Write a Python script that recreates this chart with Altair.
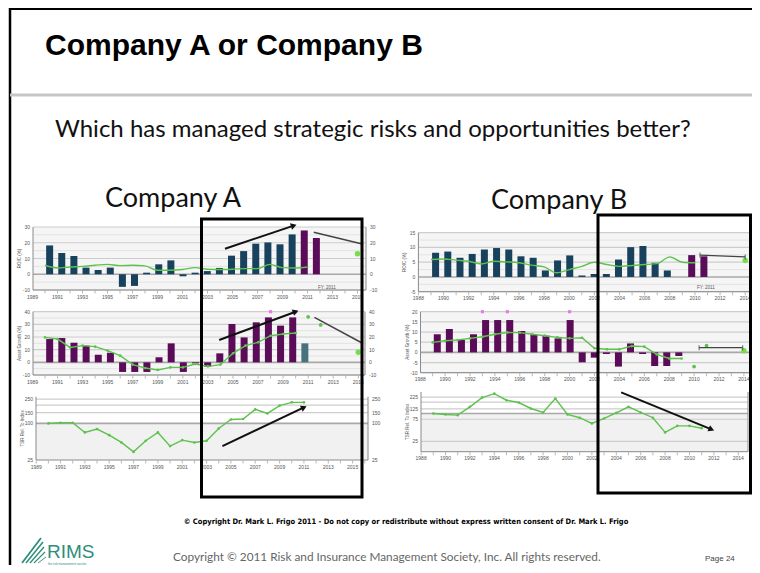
import math
import altair as alt
import pandas as pd

# ====================== DATA ======================
# ---- Company A : ROIC (%) ----
a_roic_years = [1990, 1991, 1992, 1993, 1994, 1995, 1996, 1997, 1998, 1999, 2000,
                2001, 2002, 2003, 2004, 2005, 2006, 2007, 2008, 2009, 2010]
a_roic = [18.3, 13.5, 11.6, 4.2, 2.7, 4.2, -8.0, -7.4, 1.0, 6.3, 8.8,
          -1.3, 1.0, 2.0, 4.0, 11.8, 14.7, 19.4, 20.2, 19.0, 25.3]
a_roic_fc_years = [2011, 2012]
a_roic_fc = [27.8, 23.0]
a_roic_peer_years = [1990, 1991, 1992, 1993, 1994, 1995, 1996, 1997, 1998, 1999, 2000,
                     2001, 2002, 2003, 2004, 2005, 2006, 2007, 2008, 2009, 2010, 2011]
a_roic_peer = [5.7, 4.0, 4.6, 5.0, 5.7, 6.3, 5.5, 5.7, 5.3, 2.5, 2.5,
               3.0, 4.2, 3.2, 3.0, 3.2, 3.6, 3.6, 6.3, 4.2, 4.0, 4.6]
a_roic_target_years = [2015]
a_roic_target = [13.0]

# ---- Company A : Asset growth (%) ----
a_ag_years = [1990, 1991, 1992, 1993, 1994, 1995, 1996, 1997, 1998, 1999, 2000,
              2001, 2002, 2003, 2004, 2005, 2006, 2007, 2008, 2009, 2010]
a_ag = [18.4, 19.2, 15.5, 13.2, 6.0, 7.6, -7.6, -7.6, -7.6, 4.0, 15.0,
        -7.6, -0.8, -3.4, 7.1, 30.3, 19.7, 31.6, 35.5, 29.0, 35.5]
a_ag_fc_years = [2011]
a_ag_fc = [15.0]
a_ag_peer_years = [1990, 1991, 1992, 1993, 1994, 1995, 1996, 1997, 1998, 1999, 2000,
                   2001, 2002, 2003, 2004, 2005, 2006, 2007, 2008, 2009, 2010]
a_ag_peer = [19.7, 18.4, 11.8, 13.2, 12.4, 9.2, 5.3, -1.8, -4.5, -6.0, -4.0,
             -4.0, -1.3, -3.2, -1.8, 7.1, 13.2, 15.8, 21.0, 22.4, 23.2]
a_ag_est_years = [2011, 2012]
a_ag_est = [36.0, 29.5]
a_ag_off_years = [2008, 2010]
a_ag_off = [40.0, 40.0]
a_ag_target_years = [2015]
a_ag_target = [7.9]

# ---- Company A : TSR relative to index ----
a_tsr_years = [1990, 1991, 1992, 1993, 1994, 1995, 1996, 1997, 1998, 1999, 2000,
               2001, 2002, 2003, 2004, 2005, 2006, 2007, 2008, 2009, 2010, 2011]
a_tsr = [100, 102.5, 102.5, 71, 80.6, 64, 48.6, 34, 51.8, 71, 42.3,
         53, 48.6, 51.8, 82.7, 116, 118, 170, 146, 196, 222, 222]

# ---- Company B : ROIC (%) ----
b_roic_years = [1989, 1990, 1991, 1992, 1993, 1994, 1995, 1996, 1997, 1998,
                1999, 2000, 2001, 2002, 2003, 2004, 2005, 2006, 2007, 2008]
b_roic = [8.2, 8.6, 6.5, 7.8, 9.3, 9.8, 9.3, 7.0, 6.5, 2.2,
          5.6, 7.3, 0.5, 1.0, 1.0, 5.9, 10.1, 10.5, 4.8, 2.2]
b_roic_fc_years = [2010, 2011]
b_roic_fc = [7.4, 7.0]
b_roic_peer_years = [1989, 1990, 1991, 1992, 1993, 1994, 1995, 1996, 1997, 1998, 1999,
                     2000, 2001, 2002, 2003, 2004, 2005, 2006, 2007, 2008, 2009, 2010]
b_roic_peer = [5.9, 6.1, 5.7, 5.3, 4.4, 5.3, 5.1, 4.8, 4.0, 3.4, 1.4,
               2.5, 3.6, 5.0, 4.2, 3.6, 3.9, 4.2, 4.5, 6.8, 5.0, 4.8]
b_roic_target_years = [2014]
b_roic_target = [5.6]

# ---- Company B : Asset growth (%) ----
b_ag_years = [1989, 1990, 1991, 1992, 1993, 1994, 1995, 1996, 1997, 1998, 1999,
              2000, 2001, 2002, 2003, 2004, 2005, 2006, 2007, 2008, 2009]
b_ag = [8.9, 11.5, 6.1, 8.9, 15.9, 15.9, 15.9, 10.5, 9.0, 8.2, 6.9,
        15.9, -4.9, -2.6, -0.8, -7.0, 4.4, -0.8, -6.7, -6.7, -1.8]
b_ag_peer_years = [1989, 1990, 1991, 1992, 1993, 1994, 1995, 1996, 1997, 1998, 1999,
                   2000, 2001, 2002, 2003, 2004, 2005, 2006, 2007, 2008, 2009]
b_ag_peer = [4.9, 5.7, 6.1, 6.9, 7.7, 8.9, 9.8, 9.7, 8.9, 8.2, 7.4,
             6.9, 7.2, 2.0, 1.5, 1.5, 3.1, 2.8, -1.0, -3.0, -3.0]
b_ag_est_years = [2010, 2011]
b_ag_est = [-7.0, 3.3]
b_ag_off_years = [1993, 1995, 2000]
b_ag_off = [20.0, 20.0, 20.0]
b_ag_target_years = [2014]
b_ag_target = [0.8]

# ---- Company B : TSR relative to index ----
b_tsr_years = [1989, 1990, 1991, 1992, 1993, 1994, 1995, 1996, 1997, 1998, 1999, 2000,
               2001, 2002, 2003, 2004, 2005, 2006, 2007, 2008, 2009, 2010, 2011]
b_tsr = [100, 95, 92, 139, 220, 267, 193, 172, 128, 105, 209, 95,
         81, 61, 78, 103, 139, 105, 81, 39, 54, 54, 48]

# ---- annotation arrows (data coordinates: year, value) ----
arrow_a_roic = [(2004.4, 16.2), (2009.9, 30.9)]
line_a_roic = [(2011.5, 26.7), (2015.3, 19.4)]
arrow_a_ag = [(2003.9, 17.6), (2010.0, 40.0)]
line_a_ag = [(2011.5, 35.5), (2015.3, 15.3)]
arrow_a_tsr = [(2004.3, 42.3), (2011.0, 183)]
line_b_roic = [(2010.4, 7.4), (2014.0, 6.8)]
line_b_ag = [(2010.4, 2.3), (2013.9, 2.3)]
arrow_b_tsr = [(2004.4, 285), (2011.8, 45.5)]

# ---- axis tick labels ----
a_xticks = [1989, 1991, 1993, 1995, 1997, 1999, 2001, 2003, 2005, 2007, 2009, 2011, 2013, 2015]
b_xticks = [1988, 1990, 1992, 1994, 1996, 1998, 2000, 2002, 2004, 2006, 2008, 2010, 2012, 2014]
a_roic_yticks = [30, 20, 10, 0, -10]
a_ag_yticks = [40, 30, 20, 10, 0, -10]
a_tsr_yticks = [250, 150, 100, 25]
b_roic_yticks = [15, 10, 5, 0, -5]
b_ag_yticks = [20, 15, 10, 5, 0, -5, -10]
b_tsr_yticks = [225, 125, 75, 25]

# ====================== STYLE / LAYOUT ======================
NAVY = "#17415c"
PURPLE = "#5b0c58"
TEAL = "#48737c"
GREEN = "#5cc24c"
BRIGHT = "#72e048"
PINK = "#e67be6"
TICK = "#555555"
FONT = "Liberation Sans"
RIMS_COL = "#2f8d7c"

OX, OY = 8, 8          # page margin
RIGHT_EDGE = 752       # last visible page pixel column of the chart


def X(v):
    return v - OX


def Y(v):
    return v - OY


one = pd.DataFrame({"k": [0]})
layers = []


class Panel:
    def __init__(self, left, right, top, bottom, y0, y1, ax_year, ax_px, ppy, log=False):
        self.left, self.right, self.top, self.bottom = left, right, top, bottom
        self.y0, self.y1, self.log = y0, y1, log
        self.x0 = ax_year + (left - ax_px) / ppy
        self.x1 = ax_year + (right - ax_px) / ppy

    def xs(self):
        return alt.Scale(domain=[self.x0, self.x1], range=[X(self.left), X(self.right)],
                         nice=False, zero=False)

    def ys(self):
        if self.log:
            return alt.Scale(type="log", domain=[self.y0, self.y1],
                             range=[Y(self.bottom), Y(self.top)], nice=False)
        return alt.Scale(domain=[self.y0, self.y1], range=[Y(self.bottom), Y(self.top)],
                         nice=False, zero=False)

    def xe(self, f="x"):
        return alt.X(f"{f}:Q", scale=self.xs(), axis=None)

    def ye(self, f="y"):
        return alt.Y(f"{f}:Q", scale=self.ys(), axis=None)

    def px(self, yr):
        return self.left + (yr - self.x0) / (self.x1 - self.x0) * (self.right - self.left)

    def py(self, v):
        if self.log:
            t = (math.log(v) - math.log(self.y0)) / (math.log(self.y1) - math.log(self.y0))
        else:
            t = (v - self.y0) / (self.y1 - self.y0)
        return self.bottom - t * (self.bottom - self.top)


def text(x, y, s, size, color="#000000", weight="normal", font=FONT, align="left",
         baseline="alphabetic", angle=0):
    layers.append(alt.Chart(one).mark_text(
        text=s, fontSize=size, color=color, fontWeight=weight, font=font,
        align=align, baseline=baseline, angle=angle
    ).encode(x=alt.value(X(x)), y=alt.value(Y(y))))


def rule(x1, y1, x2, y2, color, width):
    layers.append(alt.Chart(one).mark_rule(color=color, strokeWidth=width).encode(
        x=alt.value(X(x1)), x2=alt.value(X(x2)), y=alt.value(Y(y1)), y2=alt.value(Y(y2))))


def box(x1, y1, x2, y2, fill=None, stroke=None, width=1):
    kw = {}
    if fill:
        kw["fill"] = fill
    else:
        kw["fillOpacity"] = 0
        kw["fill"] = "#ffffff"
    if stroke:
        kw["stroke"] = stroke
        kw["strokeWidth"] = width
    layers.append(alt.Chart(one).mark_rect(**kw).encode(
        x=alt.value(X(x1)), x2=alt.value(X(x2)), y=alt.value(Y(y1)), y2=alt.value(Y(y2))))


def frame(p, minor, major, base, yticks, xticks, title, shade_below=None, right_labels=True):
    if shade_below is None:
        box(p.left, p.top, p.right, p.bottom, fill="#f5f5f5")
    else:
        box(p.left, p.top, p.right, p.bottom, fill="#ffffff")
        layers.append(alt.Chart(one).mark_rect(color="#f1f1f1").encode(
            x=alt.value(X(p.left)), x2=alt.value(X(p.right)),
            y=alt.Y("b:Q", scale=p.ys(), axis=None), y2=alt.value(Y(p.bottom))
        ).transform_calculate(b=str(shade_below)))
    for vals, col, w in [(minor, "#e3e3e3", 1), (major, "#cdcdcd", 1.2), (base, "#a8a8a8", 1.6)]:
        if vals:
            df = pd.DataFrame({"y": vals})
            layers.append(alt.Chart(df).mark_rule(color=col, strokeWidth=w).encode(
                y=p.ye(), x=alt.value(X(p.left)), x2=alt.value(X(p.right))))
    # axis lines
    rule(p.left, p.top, p.left, p.bottom, "#8a8a8a", 1)
    rule(p.right, p.top, p.right, p.bottom, "#8a8a8a", 1)
    rule(p.left, p.bottom, p.right, p.bottom, "#8a8a8a", 1)
    # y tick labels
    ydf = pd.DataFrame({"y": yticks, "t": [str(v) for v in yticks]})
    layers.append(alt.Chart(ydf).mark_text(fontSize=5, color=TICK, align="right",
                                           baseline="middle", font=FONT).encode(
        y=p.ye(), x=alt.value(X(p.left - 3)), text="t:N"))
    if right_labels:
        layers.append(alt.Chart(ydf).mark_text(fontSize=5, color=TICK, align="left",
                                               baseline="middle", font=FONT).encode(
            y=p.ye(), x=alt.value(X(p.right + 4)), text="t:N"))
    # x ticks + labels
    yrs = pd.DataFrame({"x": list(range(int(math.ceil(p.x0)), int(p.x1) + 1))})
    layers.append(alt.Chart(yrs).mark_tick(orient="vertical", size=3, thickness=1,
                                           color="#9a9a9a").encode(
        x=p.xe(), y=alt.value(Y(p.bottom + 2))))
    xdf = pd.DataFrame({"x": xticks, "t": [str(v) for v in xticks]})
    layers.append(alt.Chart(xdf).mark_text(fontSize=5, color=TICK, align="center",
                                           baseline="middle", font=FONT).encode(
        x=p.xe(), y=alt.value(Y(p.bottom + 6.5)), text="t:N"))
    # axis title
    text(p.left - 13, (p.top + p.bottom) / 2, title, 4.5, color=TICK, align="center",
         baseline="middle", angle=270)


def bars(p, years, vals, color, size=7):
    df = pd.DataFrame({"x": years, "y": vals})
    layers.append(alt.Chart(df).mark_bar(color=color, size=size).encode(
        x=p.xe(), y=p.ye(), y2=alt.datum(0)))


def line(p, years, vals, color=GREEN, width=1.4, interp="linear", dots=False):
    df = pd.DataFrame({"x": years, "y": vals})
    layers.append(alt.Chart(df).mark_line(color=color, strokeWidth=width,
                                          interpolate=interp).encode(x=p.xe(), y=p.ye()))
    if dots:
        layers.append(alt.Chart(df).mark_point(filled=True, color=color, size=7,
                                               opacity=1).encode(x=p.xe(), y=p.ye()))


def dots(p, years, vals, color, size, shape="circle"):
    df = pd.DataFrame({"x": years, "y": vals})
    layers.append(alt.Chart(df).mark_point(filled=True, color=color, size=size, shape=shape,
                                           opacity=1).encode(x=p.xe(), y=p.ye()))


def arrow(p, pts, color="#111111", width=2.0, head=True, ends=False):
    df = pd.DataFrame({"x": [pts[0][0], pts[1][0]], "y": [pts[0][1], pts[1][1]]})
    layers.append(alt.Chart(df).mark_line(color=color, strokeWidth=width).encode(
        x=p.xe(), y=p.ye()))
    if head:
        ang = math.degrees(math.atan2(p.py(pts[1][1]) - p.py(pts[0][1]),
                                      p.px(pts[1][0]) - p.px(pts[0][0]))) % 360
        layers.append(alt.Chart(df.iloc[[1]]).mark_point(
            shape="triangle-right", filled=True, color=color, size=45, angle=ang,
            opacity=1).encode(x=p.xe(), y=p.ye()))
    if ends:
        layers.append(alt.Chart(df).mark_tick(orient="vertical", size=5, thickness=1.2,
                                              color=color).encode(x=p.xe(), y=p.ye()))


# ====================== SLIDE DECORATION ======================
box(8, 8, RIGHT_EDGE, 565, fill="#ffffff")
rule(10, 8, 10, 565, "#000000", 2.5)
rule(10, 8.5, RIGHT_EDGE, 8.5, "#000000", 3)
rule(10, 95, RIGHT_EDGE, 95, "#c6c6c6", 3)
text(45, 55, "Company A or Company B", 30, weight="bold")
text(55, 137, "Which has managed strategic risks and opportunities better?", 24,
     color="#111111", font="Lato")
text(105, 207, "Company A", 27, color="#111111", font="Lato")
text(491, 209, "Company B", 27, color="#111111", font="Lato")

# ====================== PANELS ======================
pA1 = Panel(33, 366, 227, 290, -10, 30, 1989, 32.5, 12.5)
pA2 = Panel(33, 365, 311.7, 375, -10, 40, 1989, 32.5, 12.53)
pA3 = Panel(36, 368, 396.7, 460, 25, 275, 1989, 36.2, 12.17, log=True)
pB1 = Panel(418.4, 754, 232.7, 291.7, -5, 15, 1988, 418.4, 12.57)
pB2 = Panel(420.5, 754, 311.7, 372.7, -10, 20, 1988, 420.2, 12.45)
pB3 = Panel(421, 748, 392, 451.7, 15, 290, 1988, 421.1, 12.2, log=True)

# ---- Company A ROIC ----
frame(pA1, [25, 15, 5, -5], [30, 20, 10, -10], [0], a_roic_yticks, a_xticks, "ROIC (%)")
bars(pA1, a_roic_years, a_roic, NAVY)
bars(pA1, a_roic_fc_years, a_roic_fc, PURPLE)
line(pA1, a_roic_peer_years, a_roic_peer, interp="monotone")
dots(pA1, a_roic_target_years, a_roic_target, BRIGHT, 30)
text(318, 289, "FY: 2011", 4.5, color=TICK)
arrow(pA1, arrow_a_roic)
arrow(pA1, line_a_roic, color="#444444", width=1.5, head=False)

# ---- Company A Asset growth ----
frame(pA2, [35, 25, 15, 5, -5], [40, 30, 20, 10, -10], [0], a_ag_yticks, a_xticks,
      "Asset Growth (%)")
bars(pA2, a_ag_years, a_ag, PURPLE)
bars(pA2, a_ag_fc_years, a_ag_fc, TEAL)
line(pA2, a_ag_peer_years, a_ag_peer, dots=True)
dots(pA2, a_ag_est_years, a_ag_est, GREEN, 14)
dots(pA2, a_ag_off_years, a_ag_off, PINK, 10, shape="square")
dots(pA2, a_ag_target_years, a_ag_target, BRIGHT, 30)
arrow(pA2, arrow_a_ag)
arrow(pA2, line_a_ag, color="#444444", width=1.5, head=False)

# ---- Company A TSR ----
frame(pA3, [], [250, 200, 150], [100], a_tsr_yticks, a_xticks, "TSR Rel. To Index",
      shade_below=100)
line(pA3, a_tsr_years, a_tsr, dots=True)
arrow(pA3, arrow_a_tsr)

# ---- Company B ROIC ----
frame(pB1, [12.5, 7.5, 2.5, -2.5], [15, 10, 5, -5], [0], b_roic_yticks, b_xticks, "ROIC (%)",
      right_labels=False)
bars(pB1, b_roic_years, b_roic, NAVY)
bars(pB1, b_roic_fc_years, b_roic_fc, PURPLE)
line(pB1, b_roic_peer_years, b_roic_peer, interp="monotone")
dots(pB1, b_roic_target_years, b_roic_target, BRIGHT, 30)
text(697, 289, "FY: 2011", 4.5, color=TICK)
arrow(pB1, line_b_roic, color="#444444", width=1.3, head=False, ends=True)

# ---- Company B Asset growth ----
frame(pB2, [], [20, 15, 10, 5, -5, -10], [0], b_ag_yticks, b_xticks, "Asset Growth (%)",
      right_labels=False)
bars(pB2, b_ag_years, b_ag, PURPLE)
line(pB2, b_ag_peer_years, b_ag_peer, dots=True)
dots(pB2, b_ag_est_years, b_ag_est, GREEN, 14)
dots(pB2, b_ag_off_years, b_ag_off, PINK, 10, shape="square")
dots(pB2, b_ag_target_years, b_ag_target, BRIGHT, 30)
arrow(pB2, line_b_ag, color="#444444", width=1.3, head=False, ends=True)

# ---- Company B TSR ----
frame(pB3, [], [225, 175, 125, 75, 25], [100], b_tsr_yticks, b_xticks, "TSR Rel. To Index",
      shade_below=100, right_labels=False)
line(pB3, b_tsr_years, b_tsr, dots=True)
arrow(pB3, arrow_b_tsr)

# ---- highlight boxes ----
box(201.5, 219, 362, 497, stroke="#000000", width=3)
box(598, 215, 750.5, 493, stroke="#000000", width=3)

# ====================== FOOTER ======================
text(406, 524, "\u00a9 Copyright Dr. Mark L. Frigo 2011 - Do not copy or redistribute without "
     "express written consent of Dr. Mark L. Frigo", 7.5,
     weight="bold", font="Liberation Sans Narrow, DejaVu Sans Condensed, Liberation Sans",
     align="center")
text(173, 561, "Copyright \u00a9 2011 Risk and Insurance Management Society, Inc. All rights reserved.",
     11.8, color="#666666", font="Lato")
text(705, 561, "Page 24", 8, color="#444444")
# RIMS logo
for x1, y1, x2, y2, w in [(22, 563, 41, 538, 1.8), (26, 563, 43, 542, 1.5),
                          (30, 563, 44, 547, 1.3), (34, 563, 45, 552, 1.1),
                          (38, 563, 46, 557, 0.9)]:
    rule(x1, y1, x2, y2, RIMS_COL, w)
text(47, 557.5, "RIMS", 19, color=RIMS_COL, font="Liberation Sans")
text(48, 565, "the risk management society", 3, color=RIMS_COL)

chart = alt.layer(*layers).resolve_scale(
    x="independent", y="independent"
).properties(
    width=744, height=557, padding=0, autosize=alt.AutoSizeParams(type="none")
).configure_view(strokeWidth=0)

chart.save("out.html", embed_options={"renderer": "svg", "actions": False})
